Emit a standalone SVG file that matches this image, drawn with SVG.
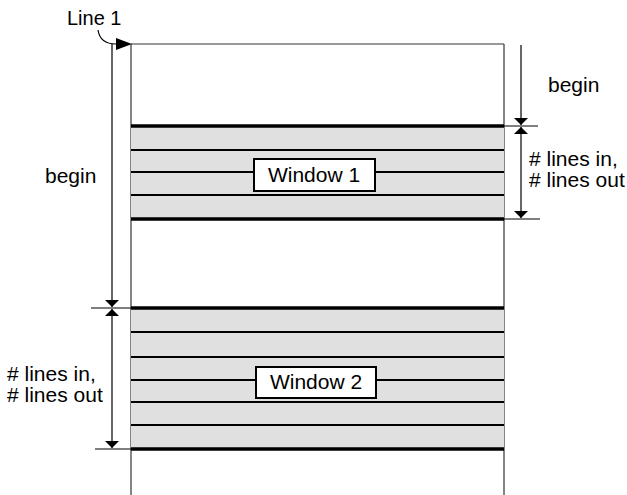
<svg xmlns="http://www.w3.org/2000/svg" width="627" height="495" viewBox="0 0 627 495">
<style>
text{font-family:"Liberation Sans",Arial,sans-serif;font-size:21px;fill:#000}
.frame{stroke:#333;stroke-width:1.2;fill:none}
.dim{stroke:#000;stroke-width:1.2;fill:none}
.thick{stroke:#000;stroke-width:3.5}
.thin{stroke:#000;stroke-width:2}
.band{fill:#e0e0e0}
.lbl{fill:#fff;stroke:#000;stroke-width:2}
</style>
<defs>
<marker id="ah" viewBox="0 0 10 10" refX="10" refY="5" markerWidth="7" markerHeight="14" markerUnits="userSpaceOnUse" orient="auto-start-reverse" preserveAspectRatio="none">
<path d="M0,0 L10,5 L0,10 Z" fill="#000"/>
</marker>
</defs>
<rect width="627" height="495" fill="#fff"/>
<g id="page">
<line class="frame" x1="131" y1="44" x2="131" y2="495"/>
<line class="frame" x1="504" y1="44" x2="504" y2="495"/>
<line class="frame" x1="131" y1="44" x2="504" y2="44"/>
</g>
<g id="window1">
<rect class="band" x="131" y="126" width="373" height="93"/>
<line class="thin" x1="131" y1="150" x2="504" y2="150"/>
<line class="thin" x1="131" y1="172" x2="504" y2="172"/>
<line class="thin" x1="131" y1="195" x2="504" y2="195"/>
<line class="thick" x1="131" y1="126" x2="504" y2="126"/>
<line class="thick" x1="131" y1="219" x2="504" y2="219"/>
<rect class="lbl" x="254" y="159" width="121" height="32"/>
<text x="314" y="182" text-anchor="middle">Window 1</text>
</g>
<g id="window2">
<rect class="band" x="131" y="308" width="373" height="141"/>
<line class="thin" x1="131" y1="332" x2="504" y2="332"/>
<line class="thin" x1="131" y1="357" x2="504" y2="357"/>
<line class="thin" x1="131" y1="380" x2="504" y2="380"/>
<line class="thin" x1="131" y1="402" x2="504" y2="402"/>
<line class="thin" x1="131" y1="425" x2="504" y2="425"/>
<line class="thick" x1="131" y1="308" x2="504" y2="308"/>
<line class="thick" x1="131" y1="449" x2="504" y2="449"/>
<rect class="lbl" x="256" y="367" width="120" height="31"/>
<text x="316" y="389" text-anchor="middle">Window 2</text>
</g>
<g id="connectors">
<line class="dim" x1="112" y1="44" x2="112" y2="307" marker-end="url(#ah)"/>
<line class="dim" x1="112" y1="309" x2="112" y2="448" marker-start="url(#ah)" marker-end="url(#ah)"/>
<line class="dim" x1="91" y1="308" x2="131" y2="308"/>
<line class="dim" x1="95" y1="449" x2="131" y2="449"/>
<line class="dim" x1="521" y1="45" x2="521" y2="125" marker-end="url(#ah)"/>
<line class="dim" x1="521" y1="127" x2="521" y2="218" marker-start="url(#ah)" marker-end="url(#ah)"/>
<line class="dim" x1="504" y1="126" x2="538" y2="126"/>
<line class="dim" x1="504" y1="219" x2="540" y2="219"/>
<path class="dim" d="M98,30 Q100,44 116,44"/>
<path d="M116,38 L132,44 L116,50 Z" fill="#000"/>
</g>
<g id="labels">
<text x="67" y="25" style="font-size:20px">Line 1</text>
<text x="548" y="92">begin</text>
<text x="529" y="166"># lines in,</text>
<text x="529" y="187"># lines out</text>
<text x="45" y="183">begin</text>
<text x="7" y="381"># lines in,</text>
<text x="7" y="402"># lines out</text>
</g>
</svg>
